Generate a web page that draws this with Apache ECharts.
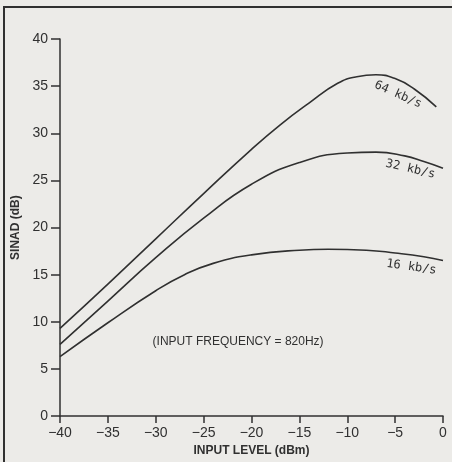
<!DOCTYPE html>
<html>
<head>
<meta charset="utf-8">
<script src="https://cdn.jsdelivr.net/npm/echarts@6/dist/echarts.min.js"></script>
<style>
  html, body { margin: 0; padding: 0; background: #ecebe8; }
  #chart { width: 452px; height: 462px; }
</style>
</head>
<body>
<div id="chart"></div>
<script>
// input level (dBm) and SINAD (dB)
const x64 = [-40, -35, -30, -25, -20, -17, -14, -11, -9, -7, -5, -3, -0.7];
const y64 = [9.3, 14.0, 18.8, 23.6, 28.3, 30.9, 33.2, 35.3, 36.0, 36.2, 35.8, 34.7, 32.8];
const x32 = [-40, -35, -30, -25, -20, -15, -10, -7, -4, -2, 0];
const y32 = [7.6, 12.2, 16.8, 21.0, 24.6, 26.9, 27.9, 28.0, 27.6, 27.0, 26.3];
const x16 = [-40, -35, -30, -27, -24, -20, -15, -12, -8, -5, -2, 0];
const y16 = [6.3, 9.9, 13.3, 15.0, 16.2, 17.1, 17.6, 17.7, 17.6, 17.3, 16.9, 16.5];

const curveNames = ["64 kb/s", "32 kb/s", "16 kb/s"];
// where each curve label sits (data coords) and its slant in degrees
const labelX = [-4.7, -3.4, -3.3];
const labelY = [34.1, 26.2, 15.8];
const labelTilt = [-24, -13, -8];

const noteText = "(INPUT FREQUENCY = 820Hz)";
const noteX = -21.4, noteY = 7.85;

const ink = "#303030";
const pairs = (xs, ys) => xs.map((v, i) => [v, ys[i]]);

const chart = echarts.init(document.getElementById("chart"));

function lineSeries(name, xs, ys) {
  return {
    name: name,
    type: "line",
    data: pairs(xs, ys),
    smooth: 0.5,
    symbol: "none",
    lineStyle: { color: ink, width: 1.6 },
    animation: false,
  };
}

chart.setOption({
  backgroundColor: "#ecebe8",
  animation: false,
  grid: { left: 60, right: 9, top: 39, bottom: 41 },
  xAxis: {
    type: "value",
    min: -40,
    max: 0,
    interval: 5,
    name: "INPUT LEVEL (dBm)",
    nameLocation: "middle",
    nameGap: 27,
    nameTextStyle: { color: ink, fontSize: 12, fontWeight: "bold", fontFamily: "Liberation Sans" },
    axisLine: { onZero: false, lineStyle: { color: ink, width: 1.5 } },
    axisTick: { length: 7, lineStyle: { color: ink, width: 1.5 } },
    axisLabel: {
      color: ink,
      fontSize: 14,
      fontFamily: "Liberation Sans",
      margin: 10,
      formatter: (v) => (v < 0 ? "\u2212" + Math.abs(v) : String(v)),
    },
    splitLine: { show: false },
  },
  yAxis: {
    type: "value",
    min: 0,
    max: 40,
    interval: 5,
    name: "SINAD (dB)",
    nameLocation: "middle",
    nameGap: 34,
    nameTextStyle: { color: ink, fontSize: 12, fontWeight: "bold", fontFamily: "Liberation Sans" },
    axisLine: { show: true, onZero: false, lineStyle: { color: ink, width: 1.5 } },
    axisTick: { show: true, length: 9, lineStyle: { color: ink, width: 1.5 } },
    axisLabel: { color: ink, fontSize: 14, fontFamily: "Liberation Sans", margin: 12 },
    splitLine: { show: false },
  },
  series: [
    lineSeries(curveNames[0], x64, y64),
    lineSeries(curveNames[1], x32, y32),
    lineSeries(curveNames[2], x16, y16),
  ],
});

// frame lines of the scanned figure plus the text labels
const texts = curveNames.map((name, i) => {
  const p = chart.convertToPixel({ gridIndex: 0 }, [labelX[i], labelY[i]]);
  return {
    type: "text",
    x: p[0],
    y: p[1],
    rotation: (labelTilt[i] * Math.PI) / 180,
    style: {
      text: name,
      fill: ink,
      font: "12px 'DejaVu Sans Mono'",
      align: "center",
      verticalAlign: "middle",
    },
  };
});
const np = chart.convertToPixel({ gridIndex: 0 }, [noteX, noteY]);
texts.push({
  type: "text",
  x: np[0],
  y: np[1],
  style: {
    text: noteText,
    fill: ink,
    font: "12px 'Liberation Sans'",
    align: "center",
    verticalAlign: "middle",
  },
});

chart.setOption({
  graphic: [
    { type: "line", shape: { x1: 4, y1: 7, x2: 4, y2: 462 }, style: { stroke: ink, lineWidth: 2 } },
    { type: "line", shape: { x1: 3, y1: 7, x2: 452, y2: 7 }, style: { stroke: ink, lineWidth: 2 } },
  ].concat(texts),
});
</script>
</body>
</html>
